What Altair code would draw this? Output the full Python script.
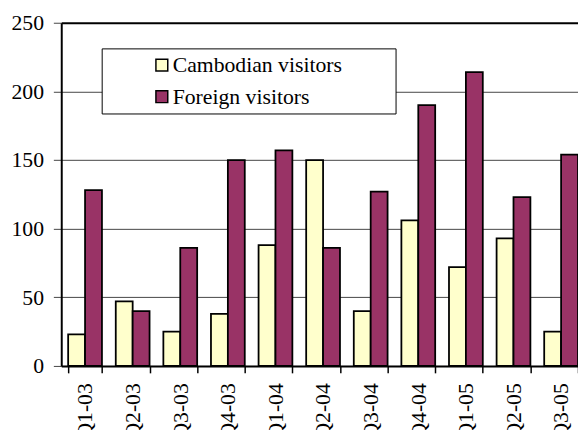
import altair as alt
import pandas as pd

quarters = ["Q1-03", "Q2-03", "Q3-03", "Q4-03", "Q1-04", "Q2-04",
            "Q3-04", "Q4-04", "Q1-05", "Q2-05", "Q3-05"]
cambodian = [23, 47, 25, 38, 88, 150, 40, 106, 72, 93, 25]
foreign = [128, 40, 86, 150, 157, 86, 127, 190, 214, 123, 154]
series_names = ["Cambodian visitors", "Foreign visitors"]
series_colors = ["#FFFFCC", "#993366"]
y_ticks = [0, 50, 100, 150, 200, 250]

rows = []
for q, c, f in zip(quarters, cambodian, foreign):
    rows.append({"quarter": q, "series": series_names[0], "value": c})
    rows.append({"quarter": q, "series": series_names[1], "value": f})
df = pd.DataFrame(rows)

FONT = "Liberation Serif"
FS = 22

chart = alt.Chart(df).mark_bar(stroke="black", strokeWidth=1.8).encode(
    x=alt.X(
        "quarter:N", sort=quarters, title=None,
        scale=alt.Scale(range=[0, 531], paddingInner=0.29, paddingOuter=0.145),
        axis=alt.Axis(labelAngle=270, tickBand="extent", domainColor="black",
                      domainWidth=2, tickColor="black", tickWidth=1.5, tickSize=7,
                      labelPadding=10, labelFontSize=FS, labelFont=FONT,
                      labelColor="black", grid=False),
    ),
    xOffset=alt.XOffset("series:N", sort=series_names,
                        scale=alt.Scale(paddingInner=0, paddingOuter=0)),
    y=alt.Y(
        "value:Q", title=None,
        scale=alt.Scale(domain=[0, 250], nice=False),
        axis=alt.Axis(values=y_ticks, grid=True,
                      gridColor={"condition": {"test": "datum.value === 250", "value": "black"}, "value": "#444444"},
                      gridWidth={"condition": {"test": "datum.value === 250", "value": 2}, "value": 1},
                      domainColor="black", domainWidth=2, tickColor="#444444",
                      tickWidth=1, tickSize=8, labelPadding=10, labelFontSize=FS,
                      labelFont=FONT, labelColor="black"),
    ),
    color=alt.Color(
        "series:N",
        scale=alt.Scale(domain=series_names, range=series_colors),
        legend=alt.Legend(orient="none", legendX=41, legendY=26, title=".",
                          titleOrient="right", titleColor="white",
                          titleFontSize=FS, titleFont=FONT, titlePadding=42,
                          fillColor="white", strokeColor="black", padding=6,
                          symbolType="square", symbolSize=144,
                          symbolStrokeColor="black", symbolStrokeWidth=1.5,
                          symbolOffset=44, labelFont=FONT, labelFontSize=FS,
                          labelColor="black", rowPadding=10, labelOffset=0,
                          labelLimit=500),
    ),
).properties(
    width=524, height=348,
    autosize=alt.AutoSizeParams(type="none"),
    padding={"left": 54, "top": 12, "right": 0, "bottom": 62},
).configure(font=FONT).configure_view(stroke=None)

chart.save("out.html", embed_options={"renderer": "svg", "actions": False})
